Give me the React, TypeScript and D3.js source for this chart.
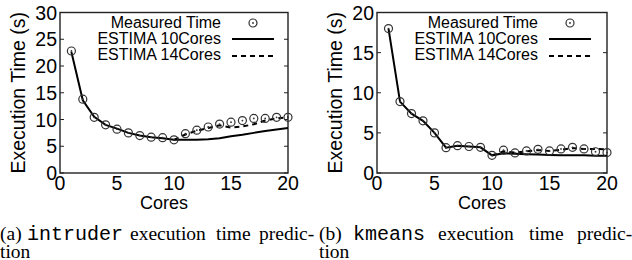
import React, { useEffect, useRef } from "react";
import * as d3 from "d3";

// x values (cores)
const cores = [1, 2, 3, 4, 5, 6, 7, 8, 9, 10, 11, 12, 13, 14, 15, 16, 17, 18, 19, 20];
const cores14 = [10, 11, 12, 13, 14, 15, 16, 17, 18, 19, 20];

// intruder
const intruderMeasured = [22.8, 13.8, 10.4, 9.0, 8.2, 7.5, 7.0, 6.7, 6.6, 6.2, 7.35, 8.0, 8.6, 9.15, 9.5, 9.8, 10.2, 10.2, 10.4, 10.4];
const intruderEst10 = [22.6, 13.6, 10.5, 9.0, 8.3, 7.5, 7.0, 6.7, 6.5, 6.2, 6.2, 6.2, 6.3, 6.5, 6.85, 7.15, 7.5, 7.85, 8.15, 8.4];
const intruderEst14 = [6.2, 7.2, 7.9, 8.4, 8.9, 8.5, 8.7, 9.1, 9.8, 10.2, 10.4];

// kmeans
const kmeansMeasured = [18.0, 8.9, 7.4, 6.5, 5.0, 3.15, 3.4, 3.3, 3.2, 2.2, 2.85, 2.5, 2.75, 2.95, 2.75, 3.0, 3.2, 3.0, 2.65, 2.55];
const kmeansEst10 = [18.0, 8.9, 7.4, 6.5, 5.0, 3.15, 3.4, 3.3, 3.2, 2.2, 2.45, 2.4, 2.35, 2.3, 2.25, 2.2, 2.2, 2.2, 2.15, 2.15];
const kmeansEst14 = [2.2, 2.7, 2.55, 2.7, 2.85, 2.75, 2.9, 3.1, 3.0, 3.0, 2.95];

const xTicks = [0, 5, 10, 15, 20];
const intruderYTicks = [0, 5, 10, 15, 20, 25, 30];
const kmeansYTicks = [0, 5, 10, 15, 20];

const legendLabels = ["Measured Time", "ESTIMA 10Cores", "ESTIMA 14Cores"];

const SANS = "'Liberation Sans', Arial, sans-serif";
const SERIF = "'Liberation Serif', 'Times New Roman', serif";
const MONO = "'Liberation Mono', 'DejaVu Sans Mono', monospace";

const App = () => {
  const ref = useRef<SVGSVGElement>(null);

  useEffect(() => {
    const svg = d3.select(ref.current);
    svg.selectAll("*").remove();

    const top = 12.5;
    const bottom = 173;

    const drawPanel = (left, right, yMax, yTicks, measured, est10, est14) => {
      const g = svg.append("g");
      const x = d3.scaleLinear().domain([0, 20]).range([left, right]);
      const y = d3.scaleLinear().domain([0, yMax]).range([bottom, top]);

      // frame
      g.append("rect")
        .attr("x", left)
        .attr("y", top)
        .attr("width", right - left)
        .attr("height", bottom - top)
        .attr("fill", "none")
        .attr("stroke", "#222")
        .attr("stroke-width", 1.4);

      // y ticks (inward, mirrored)
      yTicks.forEach((t) => {
        g.append("line")
          .attr("x1", left).attr("x2", left + 4)
          .attr("y1", y(t)).attr("y2", y(t))
          .attr("stroke", "#222").attr("stroke-width", 1);
        g.append("line")
          .attr("x1", right).attr("x2", right - 4)
          .attr("y1", y(t)).attr("y2", y(t))
          .attr("stroke", "#222").attr("stroke-width", 1);
        g.append("text")
          .attr("x", left - 3)
          .attr("y", y(t) + 7)
          .attr("text-anchor", "end")
          .style("font-family", SANS)
          .style("font-size", "19.5px")
          .text(t);
      });

      xTicks.forEach((t) => {
        g.append("text")
          .attr("x", x(t))
          .attr("y", 190)
          .attr("text-anchor", "middle")
          .style("font-family", SANS)
          .style("font-size", "19.5px")
          .text(t);
      });

      // axis titles
      g.append("text")
        .attr("transform", `translate(${left - 35},${(top + bottom) / 2}) rotate(-90)`)
        .attr("text-anchor", "middle")
        .style("font-family", SANS)
        .style("font-size", "19.5px")
        .text("Execution Time (s)");

      g.append("text")
        .attr("x", (left + right) / 2 - 10)
        .attr("y", 209)
        .attr("text-anchor", "middle")
        .style("font-family", SANS)
        .style("font-size", "18px")
        .text("Cores");

      const line = d3.line<[number, number]>()
        .x((d) => x(d[0]))
        .y((d) => y(d[1]));

      g.append("path")
        .attr("d", line(cores.map((c, i) => [c, est10[i]])))
        .attr("fill", "none")
        .attr("stroke", "#000")
        .attr("stroke-width", 2);

      g.append("path")
        .attr("d", line(cores14.map((c, i) => [c, est14[i]])))
        .attr("fill", "none")
        .attr("stroke", "#000")
        .attr("stroke-width", 2)
        .attr("stroke-dasharray", "5,4");

      const marker = (cx, cy) => {
        g.append("circle")
          .attr("cx", cx).attr("cy", cy).attr("r", 4)
          .attr("fill", "none")
          .attr("stroke", "#333")
          .attr("stroke-width", 1.2);
        g.append("circle")
          .attr("cx", cx).attr("cy", cy).attr("r", 0.9)
          .attr("fill", "#333");
      };

      cores.forEach((c, i) => marker(x(c), y(measured[i])));

      // legend
      const textEnd = left + 161;
      const baselines = [28, 44, 60];
      legendLabels.forEach((l, i) => {
        g.append("text")
          .attr("x", textEnd)
          .attr("y", baselines[i])
          .attr("text-anchor", "end")
          .style("font-family", SANS)
          .style("font-size", "16px")
          .text(l);
      });
      marker(left + 193, baselines[0] - 5);
      g.append("line")
        .attr("x1", left + 172).attr("x2", left + 214)
        .attr("y1", baselines[1] - 5).attr("y2", baselines[1] - 5)
        .attr("stroke", "#000").attr("stroke-width", 2);
      g.append("line")
        .attr("x1", left + 172).attr("x2", left + 214)
        .attr("y1", baselines[2] - 4).attr("y2", baselines[2] - 4)
        .attr("stroke", "#000").attr("stroke-width", 2)
        .attr("stroke-dasharray", "5,4");
    };

    drawPanel(60, 288, 30, intruderYTicks, intruderMeasured, intruderEst10, intruderEst14);
    drawPanel(377, 607, 20, kmeansYTicks, kmeansMeasured, kmeansEst10, kmeansEst14);

    // captions: words placed to reproduce the justified lines
    const caption = (words, y0) => {
      words.forEach(([w, xPos, mono]) => {
        svg.append("text")
          .attr("x", xPos)
          .attr("y", y0)
          .style("font-family", mono ? MONO : SERIF)
          .style("font-size", mono ? "20px" : "19.5px")
          .text(w);
      });
    };
    caption([["(a)", 0, false], ["intruder", 27, true], ["execution", 130, false], ["time", 216, false], ["predic-", 259, false]], 240);
    caption([["tion", 0, false]], 258);
    caption([["(b)", 319, false], ["kmeans", 353, true], ["execution", 438, false], ["time", 529, false], ["predic-", 577, false]], 240);
    caption([["tion", 319, false]], 258);
  }, []);

  return (
    <svg
      ref={ref}
      width={632}
      height={260}
      style={{ position: "absolute", left: 0, top: 0, background: "#fff" }}
    />
  );
};

export default App;
